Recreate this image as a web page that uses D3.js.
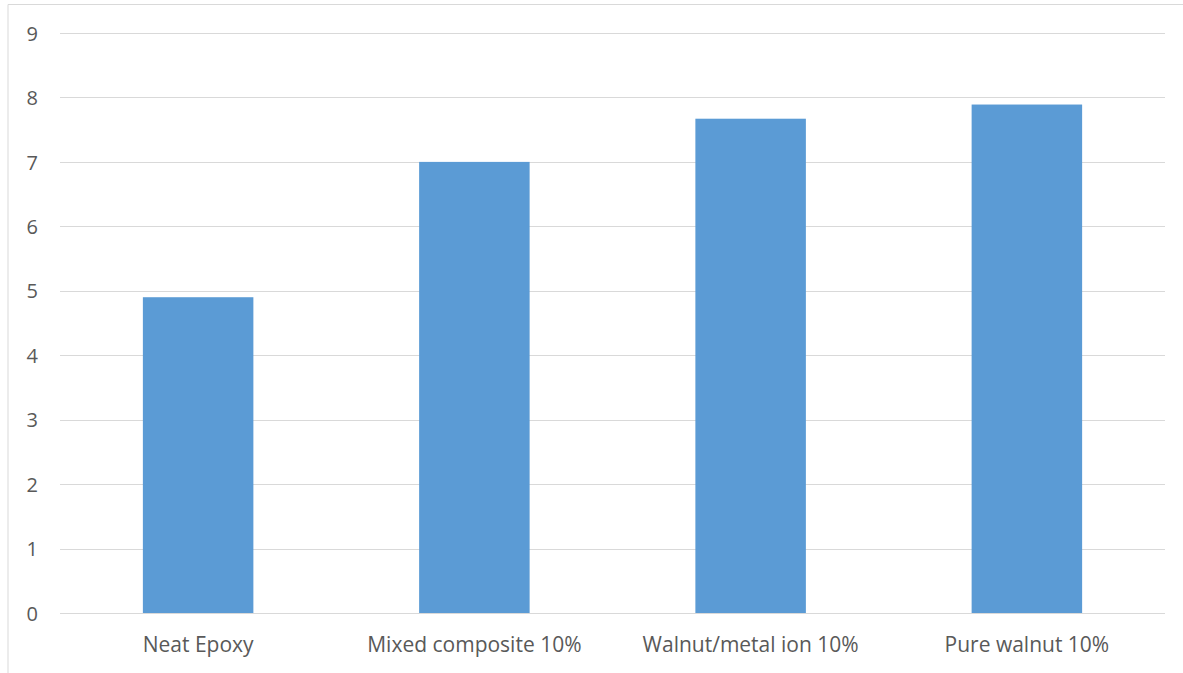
<!DOCTYPE html>
<html>
<head>
<meta charset="utf-8">
<script src="https://cdn.jsdelivr.net/npm/d3@7"></script>
<style>
  html, body { margin: 0; padding: 0; background: #fff; }
  svg { display: block; }
</style>
</head>
<body>
<svg id="chart" width="1183" height="673"></svg>
<script>
// Chart data
const categories = ["Neat Epoxy", "Mixed composite 10%", "Walnut/metal ion 10%", "Pure walnut 10%"];
const values = [4.9, 7.0, 7.67, 7.89];
const yTicks = [0, 1, 2, 3, 4, 5, 6, 7, 8, 9];

const svg = d3.select("#chart");
const W = 1183, H = 673;
const plot = { left: 60, right: 1165, top: 33, bottom: 613 };
const fontFamily = "'Open Sans', 'Noto Sans', sans-serif";
const textColor = "#595959";

// Outer frame (left and top edges visible)
svg.append("line").attr("x1", 8).attr("x2", 8).attr("y1", 4.5).attr("y2", H)
  .attr("stroke", "#D9D9D9").attr("stroke-width", 1);
svg.append("line").attr("x1", 8).attr("x2", W).attr("y1", 4.5).attr("y2", 4.5)
  .attr("stroke", "#D9D9D9").attr("stroke-width", 1);

const x = d3.scaleBand().domain(categories).range([plot.left, plot.right])
  .paddingInner(0.6).paddingOuter(0.3);
const y = d3.scaleLinear().domain([0, 9]).range([plot.bottom, plot.top]);

// Horizontal gridlines
svg.append("g").selectAll("line").data(yTicks).join("line")
  .attr("x1", plot.left).attr("x2", plot.right)
  .attr("y1", d => Math.round(y(d)) + 0.5).attr("y2", d => Math.round(y(d)) + 0.5)
  .attr("stroke", "#D9D9D9").attr("stroke-width", 1);

// Y axis labels
const yAxis = d3.axisLeft(y).tickValues(yTicks).tickSize(0).tickPadding(0).tickFormat(d3.format("d"));
const yg = svg.append("g").attr("transform", `translate(38,0)`).call(yAxis);
yg.select(".domain").remove();
yg.selectAll("text").attr("fill", textColor).attr("font-size", 20)
  .attr("font-family", fontFamily).attr("dy", "0.36em");

// Bars
svg.append("g").selectAll("rect").data(values).join("rect")
  .attr("x", (d, i) => x(categories[i]))
  .attr("width", x.bandwidth())
  .attr("y", d => y(d))
  .attr("height", d => y(0) - y(d))
  .attr("fill", "#5B9BD5");

// Category labels
const xAxis = d3.axisBottom(x).tickSize(0).tickPadding(0);
const xg = svg.append("g").attr("transform", `translate(0,${plot.bottom})`).call(xAxis);
xg.select(".domain").remove();
xg.selectAll("text").attr("fill", textColor).attr("font-size", 21)
  .attr("font-family", fontFamily).attr("dy", 0).attr("y", 39);

// Redraw baseline gridline on top of bars
svg.append("line").attr("x1", plot.left).attr("x2", plot.right)
  .attr("y1", Math.round(y(0)) + 0.5).attr("y2", Math.round(y(0)) + 0.5)
  .attr("stroke", "#D9D9D9").attr("stroke-width", 1);
</script>
</body>
</html>
